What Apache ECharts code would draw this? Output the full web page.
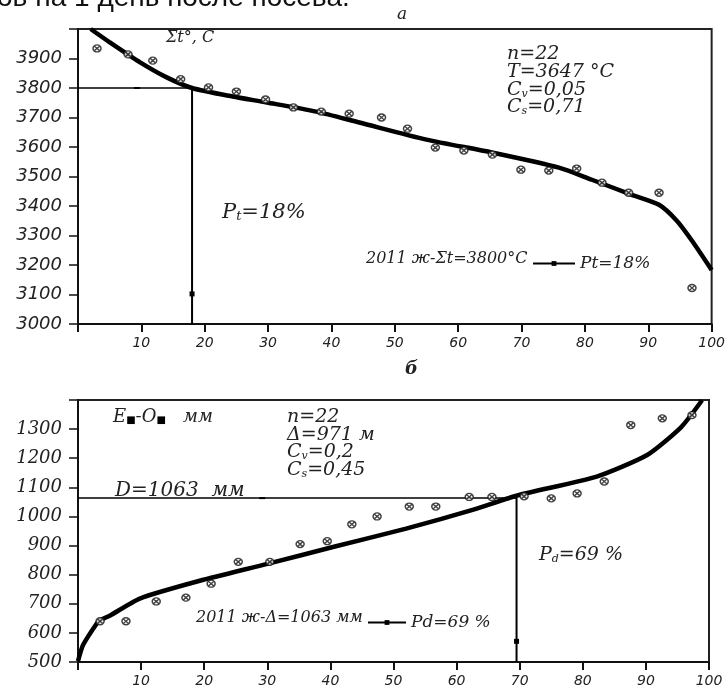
<!DOCTYPE html>
<html>
<head>
<meta charset="utf-8">
<script src="https://cdn.jsdelivr.net/npm/echarts@6/dist/echarts.min.js"></script>
<style>
html,body{margin:0;padding:0;background:#fff;}
#chart{width:728px;height:688px;}
</style>
</head>
<body>
<div id="chart"></div>
<script>
// ---- Chart "а": sum of temperatures ----
const xTicks = [0, 10, 20, 30, 40, 50, 60, 70, 80, 90, 100];
const topPointsX = [3.0, 7.9, 11.8, 16.2, 20.6, 25.0, 29.6, 34.0, 38.4, 42.8, 47.9, 52.0, 56.4, 60.9, 65.4, 69.9, 74.3, 78.7, 82.7, 86.9, 91.7, 96.9];
const topPointsY = [3934, 3914, 3893, 3830, 3802, 3788, 3761, 3734, 3720, 3713, 3700, 3662, 3598, 3588, 3574, 3523, 3520, 3527, 3479, 3445, 3445, 3122];
const topCurveX = [2.0, 5.0, 9.8, 14.0, 18.0, 24.4, 29.8, 37.6, 44.4, 55.0, 65.4, 75.9, 81.1, 87.4, 91.7, 94.5, 96.9, 100];
const topCurveY = [4000, 3955, 3887, 3836, 3800, 3771, 3751, 3720, 3683, 3625, 3581, 3530, 3489, 3438, 3404, 3350, 3282, 3183];
const topLevel = 3800;      // Σt = 3800°C
const topProb = 18;         // Pt = 18%
const topLevelMarkX = 9.3;
const topProbMarkY = 3102;
const topYMin = 3000, topYMax = 4000;

// ---- Chart "б": E-O, mm ----
const botPointsX = [3.5, 7.6, 12.4, 17.1, 21.1, 25.4, 30.4, 35.2, 39.5, 43.4, 47.4, 52.5, 56.7, 62.0, 65.6, 70.7, 75.0, 79.1, 83.4, 87.6, 92.6, 97.3];
const botPointsY = [640, 640, 708, 721, 769, 844, 844, 905, 915, 973, 1000, 1034, 1034, 1067, 1067, 1069, 1062, 1079, 1120, 1314, 1337, 1348];
const botCurveX = [0, 0.8, 3.0, 3.5, 5.1, 9.8, 19.3, 30.0, 40.4, 52.0, 62.8, 69.6, 82.2, 90.2, 95.6, 98.9];
const botCurveY = [503, 558, 633, 643, 660, 718, 779, 837, 895, 958, 1024, 1072, 1137, 1211, 1307, 1399];
const botLevel = 1063;      // D = 1063 mm
const botProb = 69.5;       // Pd = 69 %
const botLevelMarkX = 29.2;
const botProbMarkY = 571;
const botYMin = 500, botYMax = 1400;

const SERIF = '"DejaVu Serif"';
const SANS = '"DejaVu Sans"';
const zip = (a, b) => a.map((v, i) => [v, b[i]]);
const ptSymbol = 'path://M0,5 A5,5 0 1,1 10,5 A5,5 0 1,1 0,5 Z M2,2 L8,8 M8,2 L2,8';

function xAxisCfg(gi) {
  return {
    type: 'value', gridIndex: gi, min: 0, max: 100, interval: 10,
    axisLine: {lineStyle: {color: '#111', width: 2}},
    axisTick: {inside: false, length: 8, lineStyle: {color: '#111', width: 2}},
    axisLabel: {margin: 12, color: '#222', fontFamily: SANS, fontStyle: 'italic', fontSize: 14,
      formatter: v => (v === 0 ? '' : String(v))},
    splitLine: {show: false}
  };
}
function yAxisCfg(gi, mn, mx, fam) {
  return {
    type: 'value', gridIndex: gi, min: mn, max: mx, interval: 100,
    axisLine: {lineStyle: {color: '#111', width: 2}},
    axisTick: {length: 9, lineStyle: {color: '#111', width: 1.5}},
    axisLabel: {margin: 16, color: '#222', fontFamily: fam, fontStyle: 'italic', fontSize: 18,
      formatter: v => (v === mx ? '' : String(v))},
    splitLine: {show: false}
  };
}
function txt(x, y, text, size, extra) {
  return Object.assign({
    type: 'text', x: x, y: y, z: 100,
    style: Object.assign({
      text: text, fill: '#222', fontFamily: SERIF, fontStyle: 'italic', fontSize: size,
      verticalAlign: 'middle', align: 'left',
      rich: {
        sub: {fontSize: Math.round(size * 0.6), fontFamily: SERIF, fontStyle: 'italic', fill: '#222', verticalAlign: 'bottom', padding: [size * 0.35, 0, 0, 0]},
        sq: {fontSize: Math.round(size * 0.55), fontFamily: SANS, fill: '#000', padding: [size * 0.35, 0, 0, 0]},
        base: {fontSize: size, fontFamily: SERIF, fontStyle: 'italic', fill: '#222'}
      }
    }, extra || {})
  });
}

const chart = echarts.init(document.getElementById('chart'), null, {renderer: 'canvas'});
const option = {
  backgroundColor: '#fff',
  animation: false,
  grid: [
    {left: 78, top: 29, width: 635, height: 295, show: true, borderColor: '#222', borderWidth: 2, backgroundColor: 'transparent'},
    {left: 78, top: 400, width: 631, height: 264, show: true, borderColor: '#222', borderWidth: 2, backgroundColor: 'transparent'}
  ],
  xAxis: [xAxisCfg(0), xAxisCfg(1)],
  yAxis: [yAxisCfg(0, topYMin, topYMax, SANS), yAxisCfg(1, botYMin, botYMax, SERIF)],
  legend: [
    {data: ['Pt=18%'], left: 527, top: 250, itemWidth: 42, itemHeight: 6, itemGap: 2,
     textStyle: {fontFamily: SERIF, fontStyle: 'italic', fontSize: 17, color: '#222'}},
    {data: ['Pd=69 %'], left: 362, top: 609, itemWidth: 38, itemHeight: 6, itemGap: 2,
     textStyle: {fontFamily: SERIF, fontStyle: 'italic', fontSize: 17, color: '#222'}}
  ],
  series: [
    // top
    {name: 'curveTop', type: 'line', xAxisIndex: 0, yAxisIndex: 0, data: zip(topCurveX, topCurveY),
     smooth: 0.25, symbol: 'none', lineStyle: {color: '#000', width: 4.5}, z: 3},
    {name: 'pointsTop', type: 'scatter', xAxisIndex: 0, yAxisIndex: 0, data: zip(topPointsX, topPointsY),
     symbol: ptSymbol, symbolSize: [8, 7], itemStyle: {color: '#fff', borderColor: '#111', borderWidth: 1.4}, z: 4},
    {name: 'levelTop', type: 'line', xAxisIndex: 0, yAxisIndex: 0,
     data: [{value: [0, topLevel], symbol: 'none'}, {value: [topLevelMarkX, topLevel]}, {value: [topProb, topLevel], symbol: 'none'}],
     symbol: 'rect', symbolSize: [6, 2], itemStyle: {color: '#000'}, lineStyle: {color: '#000', width: 1.5}, z: 2},
    {name: 'Pt=18%', type: 'line', xAxisIndex: 0, yAxisIndex: 0,
     data: [{value: [topProb, topLevel], symbol: 'none'}, {value: [topProb, topProbMarkY]}, {value: [topProb, topYMin], symbol: 'none'}],
     symbol: 'rect', symbolSize: 5, itemStyle: {color: '#000'}, lineStyle: {color: '#000', width: 2}, z: 2},
    // bottom
    {name: 'curveBot', type: 'line', xAxisIndex: 1, yAxisIndex: 1, data: zip(botCurveX, botCurveY),
     smooth: 0.2, symbol: 'none', lineStyle: {color: '#000', width: 4.5}, z: 3},
    {name: 'pointsBot', type: 'scatter', xAxisIndex: 1, yAxisIndex: 1, data: zip(botPointsX, botPointsY),
     symbol: ptSymbol, symbolSize: [8, 7], itemStyle: {color: '#fff', borderColor: '#111', borderWidth: 1.4}, z: 4},
    {name: 'levelBot', type: 'line', xAxisIndex: 1, yAxisIndex: 1,
     data: [{value: [0, botLevel], symbol: 'none'}, {value: [botLevelMarkX, botLevel]}, {value: [botProb, botLevel], symbol: 'none'}],
     symbol: 'rect', symbolSize: [6, 2], itemStyle: {color: '#000'}, lineStyle: {color: '#000', width: 1.5}, z: 2},
    {name: 'Pd=69 %', type: 'line', xAxisIndex: 1, yAxisIndex: 1,
     data: [{value: [botProb, botLevel], symbol: 'none'}, {value: [botProb, botProbMarkY]}, {value: [botProb, botYMin], symbol: 'none'}],
     symbol: 'rect', symbolSize: 5, itemStyle: {color: '#000'}, lineStyle: {color: '#000', width: 2}, z: 2}
  ],
  graphic: [
    // cut-off header line
    {type: 'text', x: -3, y: -16, style: {text: 'ов на 1 день после посева.', fontFamily: '"Liberation Sans"', fontSize: 28, fill: '#111', verticalAlign: 'top'}},
    txt(397, 15, 'а', 17),
    txt(166, 38, 'Σt°, C', 16),
    txt(507, 54, 'n=22', 19),
    txt(507, 72, 'T=3647 °C', 19),
    txt(507, 90, '{base|C}{sub|v}{base|=0,05}', 19),
    txt(507, 107, '{base|C}{sub|s}{base|=0,71}', 19),
    txt(222, 213, '{base|P}{sub|t}{base|=18%}', 21),
    txt(366, 259, '2011 ж-Σt=3800°C', 16),
    // bottom chart
    txt(405, 369, 'б', 18, {fontWeight: 'bold'}),
    txt(113, 417, '{base|E}{sq|■}{base|-O}{sq|■}{base|   мм}', 18),
    txt(287, 417, 'n=22', 19),
    txt(287, 435, 'Δ=971 м', 19),
    txt(287, 452, '{base|C}{sub|v}{base|=0,2}', 19),
    txt(287, 470, '{base|C}{sub|s}{base|=0,45}', 19),
    txt(115, 491, 'D=1063  мм', 20),
    txt(539, 555, '{base|P}{sub|d}{base|=69 %}', 19),
    txt(196, 618, '2011 ж-Δ=1063 мм', 16)
  ]
};
chart.setOption(option);
</script>
</body>
</html>
